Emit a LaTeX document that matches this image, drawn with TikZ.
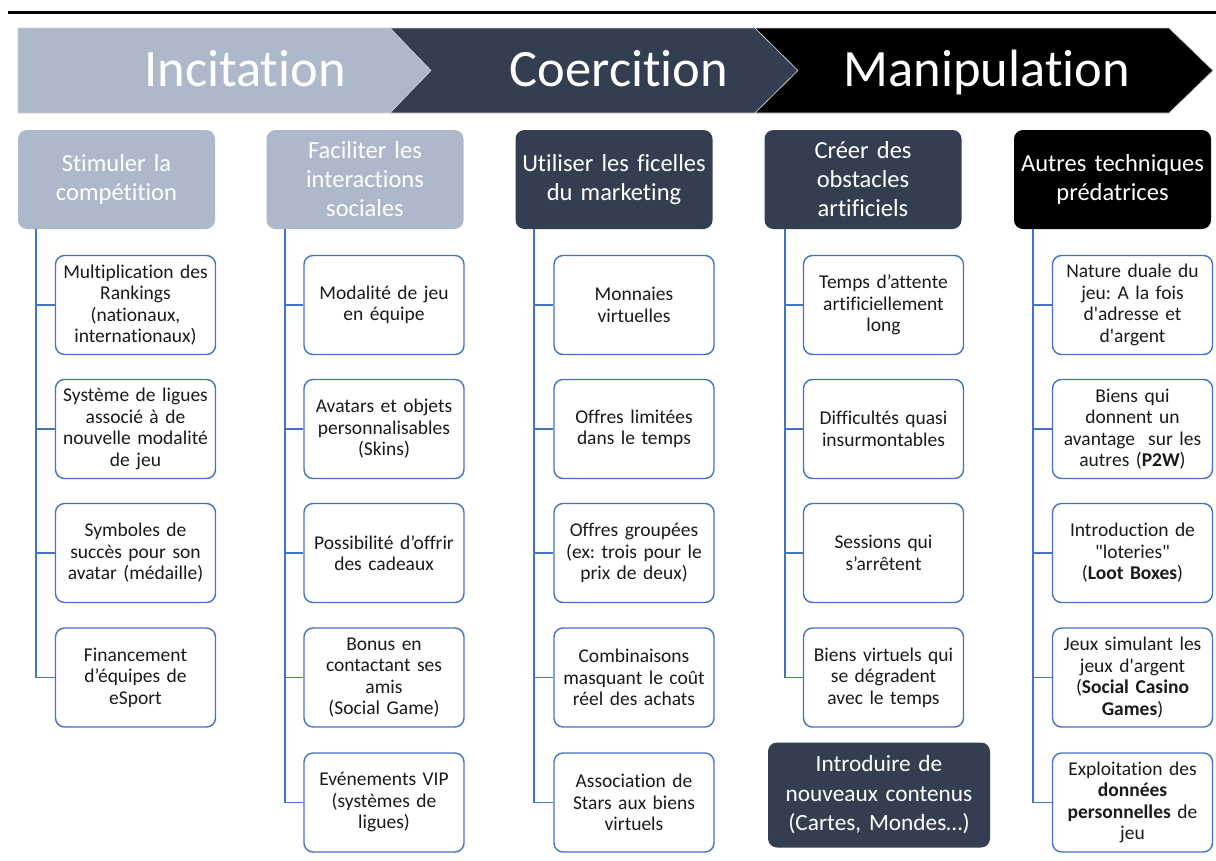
\documentclass[tikz,border=0pt]{standalone}
\usepackage{fontspec}
\setmainfont{Carlito}[Ligatures={TeX,NoCommon}]
\definecolor{lightbg}{HTML}{ADB9CA}
\definecolor{darkbg}{HTML}{333F50}
\definecolor{cblue}{HTML}{4472C4}
\definecolor{ctext}{HTML}{1A1A1A}
\newcommand{\sq}{\textquotesingle}
\tikzset{
  hdr/.style={rounded corners=9pt, text=white, align=center, inner sep=2pt,
    text width=193pt, minimum width=197pt, minimum height=99pt,
    font=\fontsize{24.5}{29}\selectfont},
  child/.style={draw=cblue, line width=1.4pt, rounded corners=9pt, fill=white,
    text=ctext, align=center, inner sep=2pt, text width=156pt, minimum width=160pt,
    minimum height=99pt, font=\fontsize{19.5}{21.5}\selectfont},
  conn/.style={draw=cblue, line width=1.8pt},
  bantext/.style={text=white, font=\fontsize{52.5}{60}\selectfont, inner sep=0pt, anchor=base},
  banshape/.style={draw=gray!35, line width=0.6pt}
}
\begin{document}
\frenchspacing
\begin{tikzpicture}[x=1pt,y=-1pt]
\useasboundingbox (0,0) rectangle (1216,860);
\fill[white] (0,0) rectangle (1216,860);
% top rule
\draw[line width=3pt] (8,12) -- (1216,12);
% banner
\filldraw[banshape, fill=lightbg] (18,28) -- (390,28) -- (431,70.5) -- (390,113) -- (18,113) -- cycle;
\filldraw[banshape, fill=darkbg] (390,28) -- (755,28) -- (798,70.5) -- (755,113) -- (390,113) -- (431,70.5) -- cycle;
\filldraw[banshape, fill=black] (755,28) -- (1169,28) -- (1213,70.5) -- (1169,113) -- (755,113) -- (798,70.5) -- cycle;
\node[bantext] (b1) at (245,86) {Incitation};
\node[bantext] (b2) at (619,86) {Coercition};
\node[bantext] (b3) at (987,86) {Manipulation};
% headers
\node[hdr, fill=lightbg] (h1) at (116.5,179.5) {Stimuler la\\compétition};
\node[hdr, fill=lightbg] (h2) at (365,179.5) {Faciliter les\\interactions\\sociales};
\node[hdr, fill=darkbg] (h3) at (614,179.5) {Utiliser les ficelles\\du marketing};
\node[hdr, fill=darkbg] (h4) at (863,179.5) {Créer des\\obstacles\\artificiels};
\node[hdr, fill=black] (h5) at (1112.5,179.5) {Autres techniques\\prédatrices};
% column 1
\node[child] (c1a) at (135.5,305) {Multiplication des\\Rankings\\(nationaux,\\internationaux)};
\node[child] (c1b) at (135.5,429) {Système de ligues\\associé à de\\nouvelle modalité\\de jeu};
\node[child] (c1c) at (135.5,553) {Symboles de\\succès pour son\\avatar (médaille)};
\node[child] (c1d) at (135.5,677.5) {Financement\\d’équipes de\\eSport};
% column 2
\node[child] (c2a) at (384,305) {Modalité de jeu\\en équipe};
\node[child] (c2b) at (384,429) {Avatars et objets\\personnalisables\\(Skins)};
\node[child] (c2c) at (384,553) {Possibilité d’offrir\\des cadeaux};
\node[child] (c2d) at (384,677.5) {Bonus en\\contactant ses\\amis\\(Social Game)};
\node[child] (c2e) at (384,802.5) {Evénements VIP\\(systèmes de\\ligues)};
% column 3
\node[child] (c3a) at (634,305) {Monnaies\\virtuelles};
\node[child] (c3b) at (634,429) {Offres limitées\\dans le temps};
\node[child] (c3c) at (634,553) {Offres groupées\\(ex: trois pour le\\prix de deux)};
\node[child] (c3d) at (634,677.5) {Combinaisons\\masquant le coût\\réel des achats};
\node[child] (c3e) at (634,802.5) {Association de\\Stars aux biens\\virtuels};
% column 4
\node[child] (c4a) at (883.5,305) {Temps d’attente\\artificiellement\\long};
\node[child] (c4b) at (883.5,429) {Difficultés quasi\\insurmontables};
\node[child] (c4c) at (883.5,553) {Sessions qui\\s’arrêtent};
\node[child] (c4d) at (883.5,677.5) {Biens virtuels qui\\se dégradent\\avec le temps};
\node[rounded corners=9pt, fill=darkbg, text=white, align=center, inner sep=2pt,
  text width=218pt, minimum width=222pt, minimum height=105pt,
  font=\fontsize{23.3}{29.5}\selectfont] (x4) at (879,795) {Introduire de\\nouveaux contenus\\(Cartes, Mondes…)};
% column 5
\node[child] (c5a) at (1132.5,305) {Nature duale du\\jeu: A la fois\\d\sq adresse et\\d\sq argent};
\node[child] (c5b) at (1132.5,429) {Biens qui\\donnent un\\avantage~ sur les\\autres (\textbf{P2W})};
\node[child] (c5c) at (1132.5,553) {Introduction de\\\textquotedbl loteries\textquotedbl\\(\textbf{Loot Boxes})};
\node[child] (c5d) at (1132.5,677.5) {Jeux simulant les\\jeux d\sq argent\\(\textbf{Social Casino}\\\textbf{Games})};
\node[child] (c5e) at (1132.5,802.5) {Exploitation des\\\textbf{données}\\\textbf{personnelles} de\\jeu};
% connectors
\path (h1.south west) ++(18,0) coordinate (v1);
\path (h2.south west) ++(19,0) coordinate (v2);
\path (h3.south west) ++(19,0) coordinate (v3);
\path (h4.south west) ++(20.5,0) coordinate (v4);
\path (h5.south west) ++(19,0) coordinate (v5);
\foreach \c in {c1a,c1b,c1c,c1d} \draw[conn] (v1) |- (\c.west);
\foreach \c in {c2a,c2b,c2c,c2d,c2e} \draw[conn] (v2) |- (\c.west);
\foreach \c in {c3a,c3b,c3c,c3d,c3e} \draw[conn] (v3) |- (\c.west);
\foreach \c in {c4a,c4b,c4c,c4d} \draw[conn] (v4) |- (\c.west);
\foreach \c in {c5a,c5b,c5c,c5d,c5e} \draw[conn] (v5) |- (\c.west);
\end{tikzpicture}
\end{document}
